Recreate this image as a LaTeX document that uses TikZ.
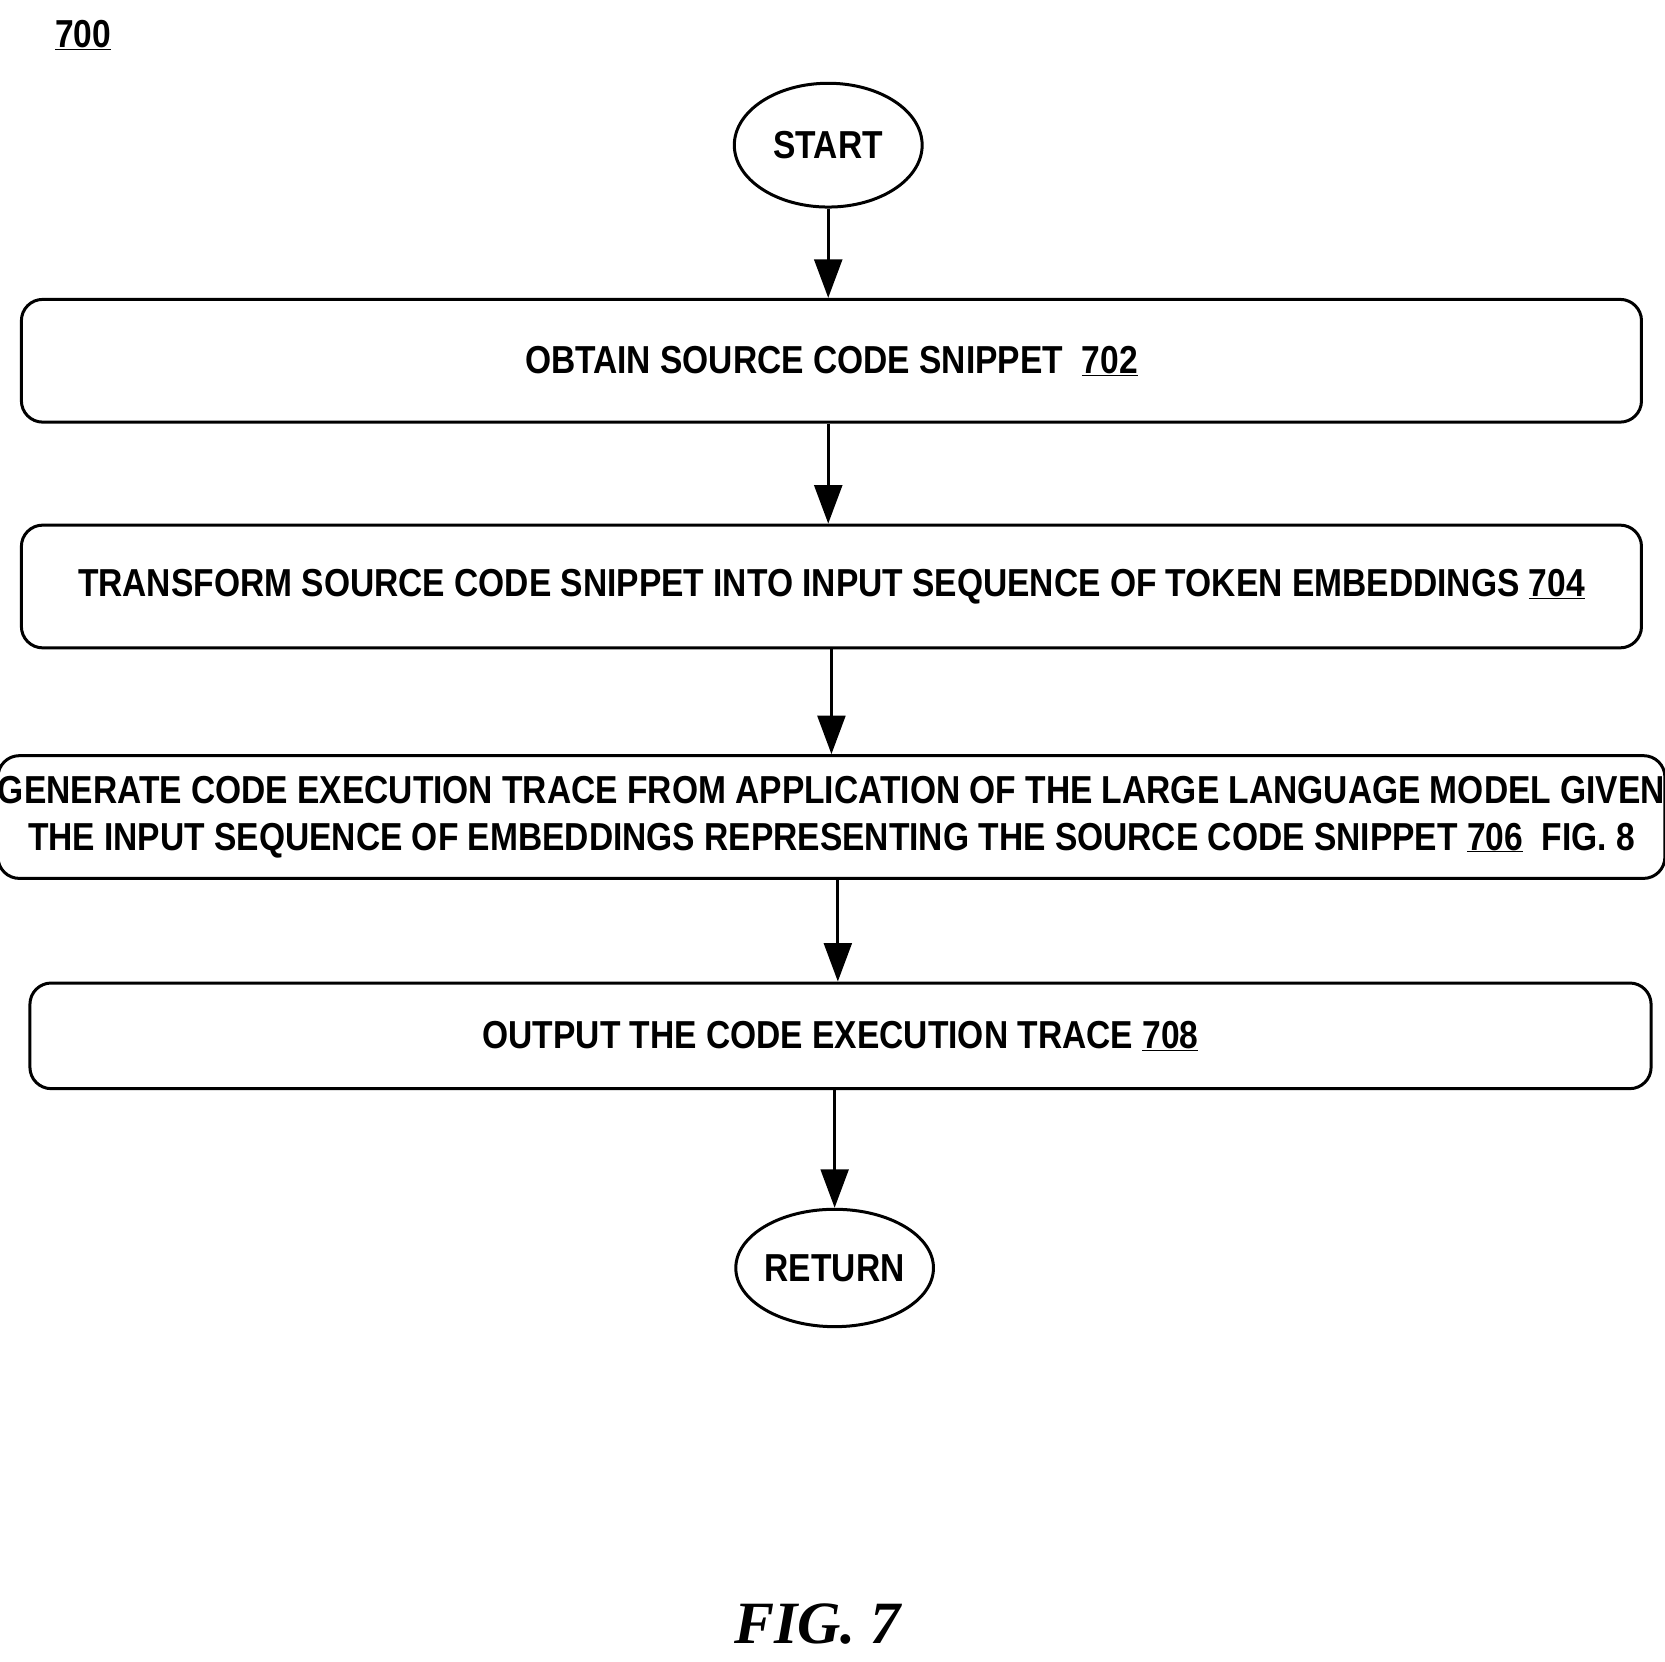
\documentclass[tikz,border=0pt]{standalone}
\usepackage{fontspec}
\setmainfont{Liberation Sans}[FakeStretch=0.86]
\newfontfamily\figfont{Liberation Serif}
\usetikzlibrary{arrows.meta}
\begin{document}
\begin{tikzpicture}[x=0.05cm,y=-0.05cm,
  every node/.style={font=\fontsize{52}{62}\selectfont\bfseries},
  box/.style={draw,line width=4pt,rounded corners=1cm,minimum height=5.75cm,inner sep=0pt},
  term/.style={draw,ellipse,line width=4pt,minimum width=8.8cm,minimum height=5.8cm,inner sep=0pt},
  arr/.style={line width=4pt,-{Triangle[length=1.8cm,width=1.3cm]}}]
\useasboundingbox (0,0) rectangle (1560,1557);
\usetikzlibrary{shapes.geometric}
\node (lbl) at (78,33) {\underline{700}};
\node[term] (start) at (776,136) {START};
\node[box,minimum width=75.9cm] (b1) at (779,338) {OBTAIN SOURCE CODE SNIPPET\ \ \underline{702}};
\node[box,minimum width=75.9cm] (b2) at (779,549.5) {TRANSFORM SOURCE CODE SNIPPET INTO INPUT SEQUENCE OF TOKEN EMBEDDINGS \underline{704}};
\node[box,minimum width=75.9cm,align=center] (b3) at (779,765.5) {GENERATE CODE EXECUTION TRACE FROM APPLICATION OF THE LARGE LANGUAGE MODEL GIVEN\\THE INPUT SEQUENCE OF EMBEDDINGS REPRESENTING THE SOURCE CODE SNIPPET \underline{706}\ \ FIG. 8};
\node[box,minimum width=75.95cm,minimum height=4.95cm] (b4) at (787.5,970.5) {OUTPUT THE CODE EXECUTION TRACE \underline{708}};
\node[term,minimum height=5.5cm] (ret) at (782,1188) {RETURN};
\node[font=\figfont\fontsize{80}{90}\selectfont\bfseries\itshape] (fig) at (766,1522) {FIG.\ 7};
\draw[arr] (start.south) -- (b1.north -| start.south);
\draw[arr] ([xshift=-0.15cm]b1.south) -- ([xshift=-0.15cm]b2.north);
\draw[arr] (b2.south) -- (b3.north);
\draw[arr] ([xshift=0.3cm]b3.south) -- ([xshift=0.3cm]b3.south |- b4.north);
\draw[arr] (b4.south -| ret.north) -- (ret.north);
\end{tikzpicture}
\end{document}
